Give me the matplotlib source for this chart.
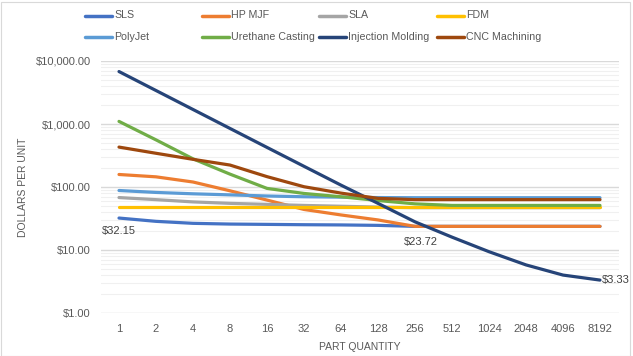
import matplotlib
matplotlib.use("Agg")
import matplotlib.pyplot as plt
from matplotlib.lines import Line2D
from matplotlib.patches import Rectangle
from matplotlib.ticker import FixedLocator, LogLocator, NullFormatter

plt.rcParams['font.family'] = ['Liberation Sans', 'DejaVu Sans']

quantities = ["1", "2", "4", "8", "16", "32", "64", "128", "256", "512", "1024", "2048", "4096", "8192"]

sls = [32.15, 28.5, 26.5, 25.8, 25.5, 25.2, 25.0, 24.6, 23.72, 23.72, 23.72, 23.72, 23.72, 23.72]
hp_mjf = [158, 145, 120, 87, 62, 44, 36, 30, 23.72, 23.72, 23.72, 23.72, 23.72, 23.72]
sla = [68, 63, 58, 55, 53, 51, 49.5, 48, 47, 47, 47, 47, 47, 47]
fdm = [48.5, 48.5, 48.5, 48.5, 48.5, 48.5, 48.5, 48.5, 48.5, 48.5, 48.5, 48.5, 48.5, 48.5]
polyjet = [88, 82, 78, 75, 72, 70, 69, 68, 67.6, 67.6, 67.6, 67.6, 67.6, 67.6]
urethane = [1100, 560, 280, 160, 95, 79, 70, 61, 54, 51, 51, 51, 51, 51]
injection = [6800, 3400, 1700, 850, 425, 213, 107, 55, 28, 16, 9.4, 5.8, 4.0, 3.33]
cnc = [430, 343, 275, 223, 146, 101, 80, 66, 63, 63, 63, 63, 63, 63]

series = [
    ("SLS", sls, "#4472C4"),
    ("HP MJF", hp_mjf, "#ED7D31"),
    ("SLA", sla, "#A5A5A5"),
    ("FDM", fdm, "#FFC000"),
    ("PolyJet", polyjet, "#5B9BD5"),
    ("Urethane Casting", urethane, "#70AD47"),
    ("Injection Molding", injection, "#264478"),
    ("CNC Machining", cnc, "#9E480E"),
]

W, H = 633, 356
fig = plt.figure(figsize=(W / 100, H / 100), dpi=100)
ax = fig.add_axes([100.5 / W, 1 - 313 / H, (618.5 - 100.5) / W, (313 - 61) / H])

x = list(range(len(quantities)))
for name, vals, col in series:
    ax.plot(x, vals, color=col, lw=2.3, solid_capstyle='round', solid_joinstyle='round', zorder=3)

ax.set_yscale('log')
ax.set_ylim(1, 10000)
ax.set_xlim(-0.5, len(quantities) - 0.5)
ax.set_xticks(x)
ax.set_xticklabels(quantities)
ax.yaxis.set_major_locator(FixedLocator([1, 10, 100, 1000, 10000]))
ax.set_yticklabels(["$1.00", "$10.00", "$100.00", "$1,000.00", "$10,000.00"])
ax.yaxis.set_minor_locator(LogLocator(base=10, subs=range(2, 10)))
ax.yaxis.set_minor_formatter(NullFormatter())
ax.grid(True, which='major', axis='y', color='#D9D9D9', lw=1.0, zorder=0)
ax.grid(True, which='minor', axis='y', color='#F0F0F0', lw=0.8, zorder=0)
ax.tick_params(axis='both', which='both', length=0, labelsize=8, labelcolor='#595959')
ax.tick_params(axis='x', pad=8)
ax.tick_params(axis='y', pad=7)
for s in ax.spines.values():
    s.set_visible(False)

ax.set_xlabel("PART QUANTITY", fontsize=7.5, color='#595959', labelpad=6)
ax.set_ylabel("DOLLARS PER UNIT", fontsize=7.5, color='#595959')
ax.yaxis.set_label_coords((28 - 100.5) / 518, 0.5)

# data labels
ax.annotate("$32.15", (0, sls[0]), xytext=(0, -9.5), textcoords='offset points',
            ha='center', va='center', fontsize=8, color='#404040')
ax.annotate("$23.72", (8, sls[8]), xytext=(4, -11), textcoords='offset points',
            ha='center', va='center', fontsize=8, color='#404040')
ax.annotate("$3.33", (13, injection[13]), xytext=(1, 0), textcoords='offset points',
            ha='left', va='center', fontsize=8, color='#404040')

# legend
col_x = [85, 202, 319, 437]
row_y = [15.5, 37]
for i, (name, vals, col) in enumerate(series):
    r, c = divmod(i, 4)
    x0 = col_x[c]
    y0 = 1 - row_y[r] / H
    fig.add_artist(Line2D([x0 / W, (x0 + 27) / W], [y0, y0], transform=fig.transFigure,
                          color=col, lw=2.5, solid_capstyle='round'))
    fig.text((x0 + 29) / W, y0, name, fontsize=7.7, color='#595959', va='center', ha='left')

fig.add_artist(Rectangle((0.5 / W, 0.5 / H), (W - 4) / W, (H - 2) / H, transform=fig.transFigure,
                         fill=False, edgecolor='#D9D9D9', lw=0.8))

fig.savefig("out.png", dpi=100)
